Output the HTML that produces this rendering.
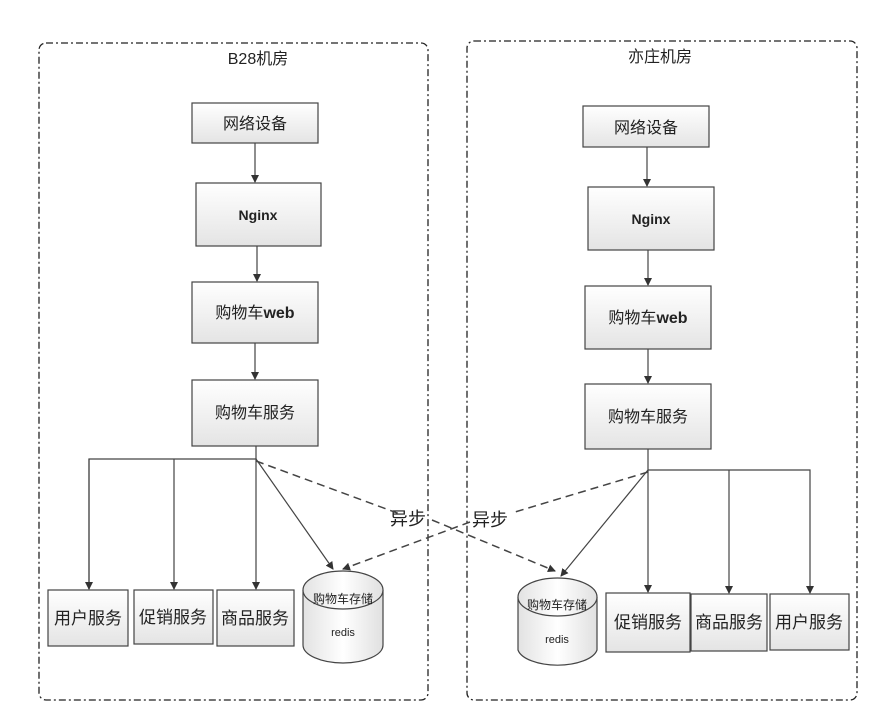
<!DOCTYPE html>
<html><head><meta charset="utf-8"><style>
html,body{margin:0;padding:0;background:#fff;}
svg{display:block;}
text{font-family:"Liberation Sans","Noto Sans CJK SC",sans-serif;fill:#222;}
</style></head><body>
<svg width="891" height="724" viewBox="0 0 891 724" xmlns="http://www.w3.org/2000/svg">
<defs>
<linearGradient id="g" x1="0" y1="0" x2="0" y2="1"><stop offset="0" stop-color="#ffffff"/><stop offset="1" stop-color="#e4e4e4"/></linearGradient>
<linearGradient id="c" x1="0" y1="0" x2="1" y2="0"><stop offset="0" stop-color="#e2e2e2"/><stop offset="0.5" stop-color="#ffffff"/><stop offset="1" stop-color="#e0e0e0"/></linearGradient>
<marker id="a" markerWidth="8" markerHeight="8" refX="7" refY="4" orient="auto" markerUnits="userSpaceOnUse"><path d="M0,0 L8,4 L0,8 z" fill="#333"/></marker>
</defs>
<g fill="none" stroke="#222" stroke-width="1.3" stroke-dasharray="7,3,2,3">
<rect x="39" y="43" width="389" height="657" rx="7"/>
<rect x="467" y="41" width="390" height="659" rx="7"/>
</g>
<text x="258" y="64" font-size="16" text-anchor="middle" font-family="Liberation Serif,Noto Serif CJK SC,serif">B28机房</text>
<text x="660" y="62" font-size="16" text-anchor="middle">亦庄机房</text>
<g stroke="#444" stroke-width="1.2" fill="url(#g)">
<rect x="192" y="103" width="126" height="40"/>
<rect x="196" y="183" width="125" height="63"/>
<rect x="192" y="282" width="126" height="61"/>
<rect x="192" y="380" width="126" height="66"/>
<rect x="48" y="590" width="80" height="56"/>
<rect x="134" y="590" width="79" height="54"/>
<rect x="217" y="590" width="77" height="56"/>
<rect x="583" y="106" width="126" height="41"/>
<rect x="588" y="187" width="126" height="63"/>
<rect x="585" y="286" width="126" height="63"/>
<rect x="585" y="384" width="126" height="65"/>
<rect x="606" y="593" width="84" height="59"/>
<rect x="691" y="594" width="76" height="57"/>
<rect x="770" y="594" width="79" height="56"/>
</g>
<g stroke="#444" stroke-width="1.2" fill="url(#c)">
<path d="M303,590 L303,645 A40,18 0 0 0 383,645 L383,590"/>
<ellipse cx="343" cy="590" rx="40" ry="19"/>
<path d="M518,597 L518,650 A40,18 0 0 0 597,650 L597,597"/>
<ellipse cx="557.5" cy="597" rx="39.5" ry="19"/>
</g>
<g font-size="16" text-anchor="middle">
<text x="255" y="129">网络设备</text>
<text x="258" y="220" font-weight="bold" font-size="14">Nginx</text>
<text x="255" y="318">购物车<tspan font-weight="bold">web</tspan></text>
<text x="255" y="418">购物车服务</text>
<text x="88" y="624" font-size="17">用户服务</text>
<text x="173" y="623" font-size="17">促销服务</text>
<text x="255" y="624" font-size="17">商品服务</text>
<text x="646" y="133">网络设备</text>
<text x="651" y="224" font-weight="bold" font-size="14">Nginx</text>
<text x="648" y="323">购物车<tspan font-weight="bold">web</tspan></text>
<text x="648" y="422">购物车服务</text>
<text x="648" y="628" font-size="17">促销服务</text>
<text x="729" y="628" font-size="17">商品服务</text>
<text x="809" y="628" font-size="17">用户服务</text>
<text x="343" y="603" font-size="12">购物车存储</text>
<text x="343" y="636" font-size="11">redis</text>
<text x="557" y="609" font-size="12">购物车存储</text>
<text x="557" y="643" font-size="11">redis</text>
<text x="408" y="525" font-size="18">异步</text>
<text x="490" y="526" font-size="18">异步</text>
</g>
<g stroke="#444" stroke-width="1.2" fill="none">
<line x1="255" y1="143" x2="255" y2="182" marker-end="url(#a)"/>
<line x1="257" y1="246" x2="257" y2="281" marker-end="url(#a)"/>
<line x1="255" y1="343" x2="255" y2="379" marker-end="url(#a)"/>
<line x1="256" y1="446" x2="256" y2="459"/>
<polyline points="89,589 89,459 256,459 256,589" marker-end="url(#a)"/>
<line x1="89" y1="459" x2="89" y2="589" marker-end="url(#a)"/>
<line x1="174" y1="459" x2="174" y2="589" marker-end="url(#a)"/>
<line x1="256" y1="459" x2="333" y2="569" marker-end="url(#a)"/>
<line x1="647" y1="147" x2="647" y2="186" marker-end="url(#a)"/>
<line x1="648" y1="250" x2="648" y2="285" marker-end="url(#a)"/>
<line x1="648" y1="349" x2="648" y2="383" marker-end="url(#a)"/>
<polyline points="648,449 648,470 810,470 810,593" marker-end="url(#a)"/>
<line x1="648" y1="470" x2="648" y2="592" marker-end="url(#a)"/>
<line x1="729" y1="470" x2="729" y2="593" marker-end="url(#a)"/>
<line x1="648" y1="470" x2="561" y2="576" marker-end="url(#a)"/>
</g>
<g stroke="#444" stroke-width="1.5" fill="none" stroke-dasharray="8,5">
<polyline points="256,461 400,514" />
<polyline points="432,520 555,571" marker-end="url(#a)"/>
<polyline points="648,472 515,512"/>
<polyline points="470,522 343,569" marker-end="url(#a)"/>
</g>
</svg>
</body></html>
